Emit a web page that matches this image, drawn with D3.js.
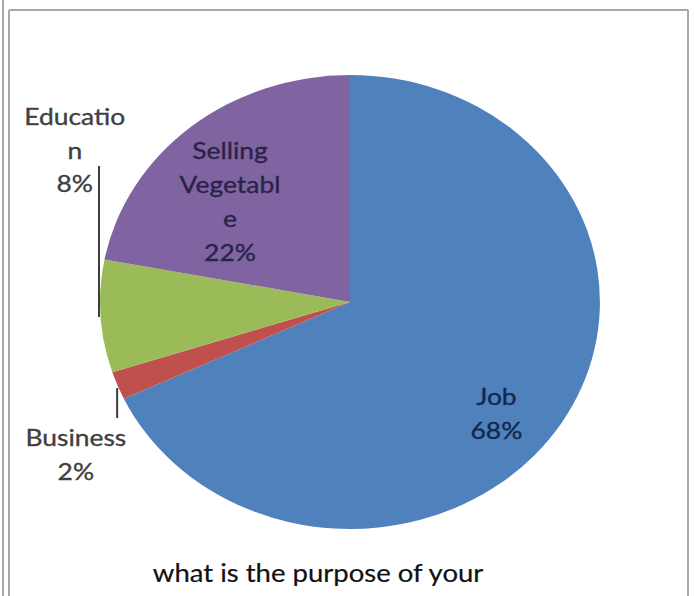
<!DOCTYPE html>
<html>
<head>
<meta charset="utf-8">
<script src="https://cdn.jsdelivr.net/npm/d3@7"></script>
<style>
  html, body { margin: 0; padding: 0; background: #fff; }
  svg { display: block; }
  text { font-family: Lato, "Open Sans", sans-serif; }
</style>
</head>
<body>
<svg id="chart" width="695" height="596"></svg>
<script>
// Purpose of travel, share of respondents (%), clockwise from 12 o'clock
const categories = ["Job", "Business", "Education", "Selling Vegetable"];
const values = [68, 2, 8, 22];
const colors = ["#4f81bd", "#c0504d", "#9bbb59", "#8064a2"];
// Label lines as wrapped in the chart
const labelLines = [
  ["Job", "68%"],
  ["Business", "2%"],
  ["Educatio", "n", "8%"],
  ["Selling", "Vegetabl", "e", "22%"]
];
const title = "what is the purpose of your";

const svg = d3.select("#chart");

// outer frame
const frame = svg.append("g").attr("fill", "none").attr("stroke", "#a8a8a8").attr("stroke-width", 2);
frame.append("line").attr("x1", 3).attr("y1", 0).attr("x2", 3).attr("y2", 596);
frame.append("line").attr("x1", 9).attr("y1", 10).attr("x2", 9).attr("y2", 596);
frame.append("line").attr("x1", 9).attr("y1", 10).attr("x2", 688).attr("y2", 10);
frame.append("line").attr("x1", 688).attr("y1", 10).attr("x2", 688).attr("y2", 596);

const R = 227;
const sx = 1.101;
const g = svg.append("g").attr("transform", `translate(350,302) scale(${sx},1)`);

const pie = d3.pie().sort(null).value(d => d.value);
const arc = d3.arc().innerRadius(0).outerRadius(R);
const data = categories.map((c, i) => ({ name: c, value: values[i], color: colors[i], lines: labelLines[i] }));
const arcs = pie(data);

g.selectAll("path.slice")
  .data(arcs)
  .join("path")
  .attr("class", "slice")
  .attr("d", arc)
  .attr("fill", d => d.data.color);

// label placement per slice (unscaled chart units relative to pie centre)
const labelPos = {
  "Job": { x: 133, y: 103, fill: "#13284a" },
  "Business": { x: -249, y: 144, fill: "#404040" },
  "Education": { x: -250, y: -177, fill: "#404040" },
  "Selling Vegetable": { x: -109, y: -143, fill: "#2a2348" }
};
const lineH = 34;

arcs.forEach(a => {
  const p = labelPos[a.data.name];
  const t = g.append("text")
    .attr("text-anchor", "middle")
    .attr("font-size", 24)
    .attr("fill", p.fill)
    .attr("stroke", p.fill)
    .attr("stroke-width", 0.35);
  a.data.lines.forEach((ln, i) => {
    t.append("tspan").attr("x", p.x).attr("y", p.y + i * (a.data.name === "Education" ? 33.5 : lineH)).text(ln);
  });
});

// leader lines for the outside labels
const leaders = g.append("g").attr("stroke", "#3a3a3a").attr("stroke-width", 2 / sx);
leaders.append("line").attr("x1", -228).attr("y1", -136).attr("x2", -228).attr("y2", 15);
leaders.append("line").attr("x1", -211.5).attr("y1", 86).attr("x2", -211.5).attr("y2", 116);

// chart title
g.append("text")
  .attr("x", -29).attr("y", 280)
  .attr("text-anchor", "middle")
  .attr("font-size", 25)
  .attr("fill", "#111")
  .attr("stroke", "#111")
  .attr("stroke-width", 0.2)
  .text(title);
</script>
</body>
</html>
